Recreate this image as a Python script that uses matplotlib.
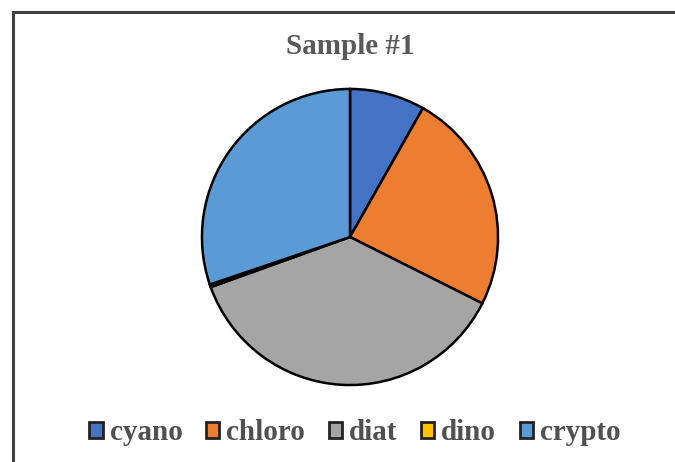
import matplotlib.pyplot as plt
from matplotlib.patches import Rectangle, Patch

# phytoplankton group shares, sample 1 (percent)
groups = ["cyano", "chloro", "diat", "dino", "crypto"]
shares = [8.2, 24.2, 37.1, 0.3, 30.2]
colors = ["#4472C4", "#ED7D31", "#A5A5A5", "#FFC000", "#5B9BD5"]

plt.rcParams['font.family'] = ['Liberation Serif', 'DejaVu Serif']

fig = plt.figure(figsize=(6.75, 4.62), dpi=100)

# chart frame
fig.patches.append(Rectangle((13 / 675, -0.05), 1.1, 1 - 12 / 462 + 0.05,
                             transform=fig.transFigure, fill=False,
                             edgecolor="#404040", linewidth=2.2))

r = 151
ax = fig.add_axes([(350 - r) / 675, (462 - 237 - r) / 462, 2 * r / 675, 2 * r / 462])
ax.pie(shares, colors=colors, startangle=90, counterclock=False, radius=1,
       wedgeprops=dict(edgecolor="black", linewidth=1.8))
ax.set_xlim(-1.02, 1.02)
ax.set_ylim(-1.02, 1.02)
ax.set_aspect("equal")
ax.axis("off")

fig.text(350 / 675, 1 - 47 / 462, "Sample #1", ha="center", va="center",
         fontsize=21, fontweight="bold", color="#595959")

handles = [Patch(facecolor=c, edgecolor="#222222", linewidth=2) for c in colors]
fig.legend(handles, groups, loc="center", bbox_to_anchor=(355 / 675, 1 - 433 / 462),
           ncol=5, frameon=False, handlelength=0.45, handleheight=0.45,
           handletextpad=0.25, columnspacing=0.8,
           prop=dict(size=21, weight="bold"), labelcolor="#505050")

fig.savefig("out.png", dpi=100)
